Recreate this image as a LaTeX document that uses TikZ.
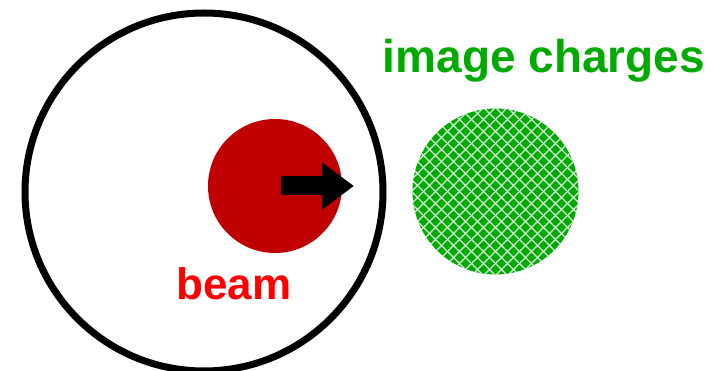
\documentclass[tikz,border=0pt]{standalone}
\usepackage{fontspec}
\setmainfont{Liberation Sans}
\usetikzlibrary{positioning,calc,arrows.meta}
\definecolor{beamRedFill}{HTML}{C00000}
\definecolor{beamRedText}{HTML}{FF0000}
\definecolor{imageGreen}{HTML}{00AA00}
\tikzset{
  pipe wall/.style={
    circle, draw=black, line width=7pt,
    minimum size=358pt, inner sep=0pt,
  },
  beam disc/.style={
    circle, fill=beamRedFill, draw=none,
    minimum size=134pt, inner sep=0pt,
  },
  image disc/.style={
    circle, fill=imageGreen, draw=none,
    minimum size=166pt, inner sep=0pt,
  },
  push arrow/.style={
    -{Triangle[length=32pt, width=45pt]},
    line width=19pt, color=black,
  },
  hatch line/.style={
    white!85!imageGreen, line width=1.1pt,
  },
  big label/.style={
    font=\bfseries\fontsize{#1}{#1}\selectfont,
    inner sep=0pt, anchor=base,
  },
}

\begin{document}
\begin{tikzpicture}[x=1pt, y=-1pt]

% --- FRAME ---
\useasboundingbox (0,0) rectangle (720,371);
\clip (0,0) rectangle (720,371);

% --- BEAM PIPE AND BEAM ---
\node[pipe wall] (pipe) at (204,192) {};
\node[beam disc] (beam) at (275,186) {};
\coordinate (push start) at ($(beam.center)+(6pt,0)$);
\coordinate (push tip) at ($(beam.center)+(79pt,0)$);
\draw[push arrow] (push start) -- (push tip);

% --- IMAGE CHARGES (hatched disc) ---
\node[image disc] (image) at (495.5,191.5) {};
\begin{scope}
  \clip (image.center) circle (83);
  \foreach \d in {-204,-192,...,204} {
    \draw[hatch line]
      ($(image.center)+(\d-100,-100)$) -- ($(image.center)+(\d+100,100)$);
    \draw[hatch line]
      ($(image.center)+(\d-100,100)$) -- ($(image.center)+(\d+100,-100)$);
  }
\end{scope}

% --- LABELS ---
\node[big label=44pt, text=beamRedText] (beam label) at (234,299) {beam};
\node[big label=46pt, text=imageGreen] (image label) at (544,73) {image charges};

\end{tikzpicture}
\end{document}
